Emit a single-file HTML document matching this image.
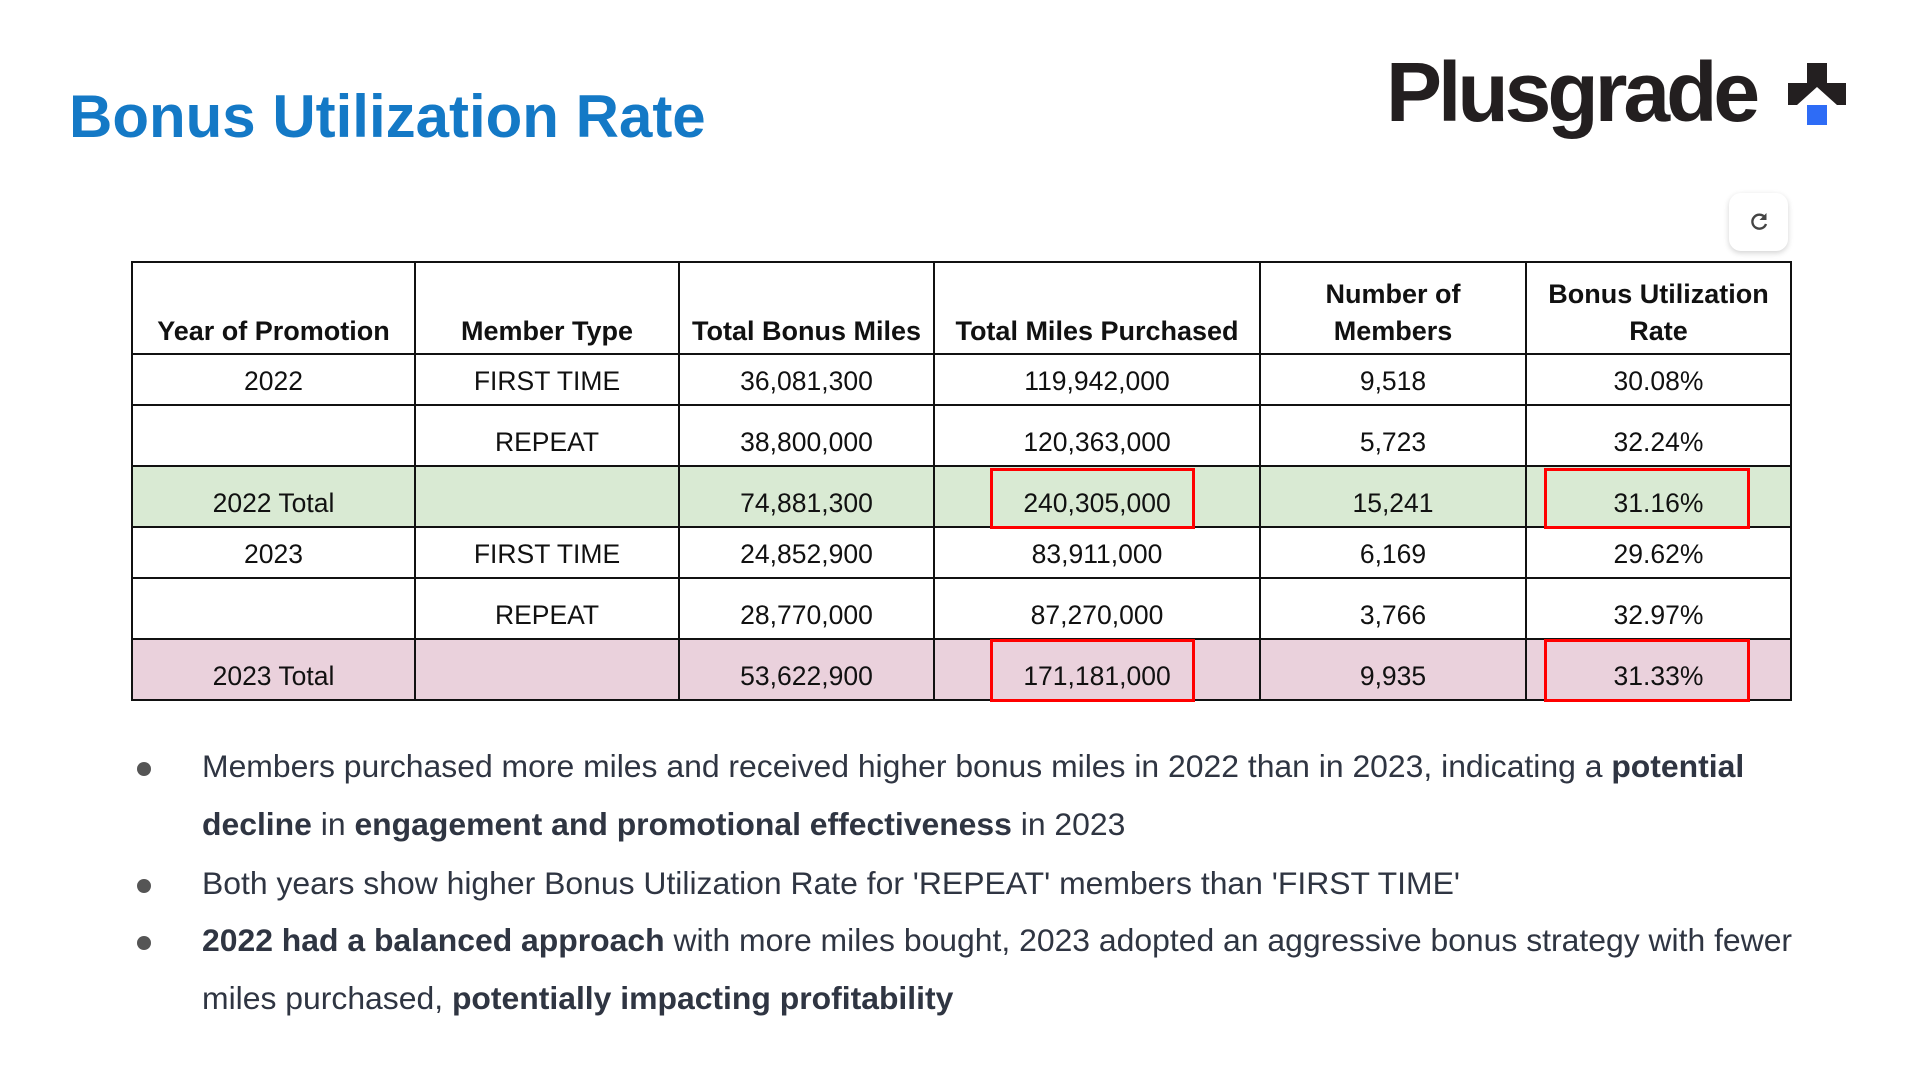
<!DOCTYPE html>
<html><head><meta charset="utf-8">
<style>
html,body{margin:0;padding:0;background:#fff;}
body{width:1920px;height:1074px;position:relative;overflow:hidden;font-family:"Liberation Sans",Arial,sans-serif;}
#title{position:absolute;left:69px;top:82px;font-size:60px;color:#1479c6;font-weight:bold;margin:0;}
#logo{position:absolute;left:1386px;top:42px;font-size:84px;font-weight:bold;color:#231f20;letter-spacing:-4px;line-height:100px;}
#logo-icon{position:absolute;left:1786px;top:60px;}
#refresh{position:absolute;left:1729px;top:193px;width:59px;height:58px;border-radius:12px;background:#fff;box-shadow:0 2px 6px rgba(0,0,0,0.18);display:flex;align-items:center;justify-content:center;}
table{position:absolute;left:131px;top:261px;border-collapse:collapse;table-layout:fixed;}
td,th{border:2px solid #111;text-align:center;vertical-align:bottom;padding:0 2px 8px 2px;font-size:26.5px;color:#111;line-height:30px;}
th{font-weight:bold;font-size:27px;line-height:37px;padding-bottom:3px;}
tr.g td{background:#d9ead3;}
tr.p td{background:#ead1dc;}
.rb{position:absolute;border:3px solid #f00;box-sizing:border-box;}
.line{position:absolute;left:202px;font-size:31.9px;color:#2f3542;white-space:nowrap;}
.line b{font-weight:bold;}
.dot{position:absolute;left:137px;width:14px;height:14px;border-radius:50%;background:#555;}
</style></head>
<body>
<h1 id="title">Bonus Utilization Rate</h1>
<div id="logo">Plusgrade</div>
<svg id="logo-icon" width="62" height="70">
<polygon points="21,3 41,3 41,23 60,23 60,45 51,45 31,27 11,45 2,45 2,23 21,23" fill="#231f20"/>
<rect x="21" y="45" width="20" height="20" fill="#2e6cf6"/>
</svg>
<div id="refresh">
<svg width="24" height="24" viewBox="0 0 24 24"><path d="M18 7.5A7 7 0 1 0 19 14" fill="none" stroke="#444" stroke-width="2.4"/><polygon points="19.5,3 19.5,10 12.5,10" fill="#444"/></svg>
</div>

<table>
<colgroup><col style="width:283px"><col style="width:264px"><col style="width:255px"><col style="width:326px"><col style="width:266px"><col style="width:265px"></colgroup>
<tr style="height:92px">
<th>Year of Promotion</th>
<th>Member Type</th>
<th>Total Bonus Miles</th>
<th>Total Miles Purchased</th>
<th>Number of<br>Members</th>
<th>Bonus Utilization<br>Rate</th></tr>
<tr style="height:51px"><td>2022</td><td>FIRST TIME</td><td>36,081,300</td><td>119,942,000</td><td>9,518</td><td>30.08%</td></tr>
<tr style="height:61px"><td></td><td>REPEAT</td><td>38,800,000</td><td>120,363,000</td><td>5,723</td><td>32.24%</td></tr>
<tr class="g" style="height:61px"><td>2022 Total</td><td></td><td>74,881,300</td><td>240,305,000</td><td>15,241</td><td>31.16%</td></tr>
<tr style="height:51px"><td>2023</td><td>FIRST TIME</td><td>24,852,900</td><td>83,911,000</td><td>6,169</td><td>29.62%</td></tr>
<tr style="height:61px"><td></td><td>REPEAT</td><td>28,770,000</td><td>87,270,000</td><td>3,766</td><td>32.97%</td></tr>
<tr class="p" style="height:61px"><td>2023 Total</td><td></td><td>53,622,900</td><td>171,181,000</td><td>9,935</td><td>31.33%</td></tr>
</table>

<div class="rb" style="left:990px;top:468px;width:205px;height:61px"></div>
<div class="rb" style="left:1544px;top:468px;width:206px;height:61px"></div>
<div class="rb" style="left:990px;top:639px;width:205px;height:63px"></div>
<div class="rb" style="left:1544px;top:639px;width:206px;height:63px"></div>

<div id="bullets">
<div class="dot" style="top:762px"></div>
<div class="line" style="top:748px">Members purchased more miles and received higher bonus miles in 2022 than in 2023, indicating a <b>potential</b></div>
<div class="line" style="top:806px"><b>decline</b> in <b>engagement and promotional effectiveness</b> in 2023</div>
<div class="dot" style="top:879px"></div>
<div class="line" style="top:865px">Both years show higher Bonus Utilization Rate for 'REPEAT' members than 'FIRST TIME'</div>
<div class="dot" style="top:936px"></div>
<div class="line" style="top:922px"><b>2022 had a balanced approach</b> with more miles bought, 2023 adopted an aggressive bonus strategy with fewer</div>
<div class="line" style="top:980px">miles purchased, <b>potentially impacting profitability</b></div>
</div>
</body></html>
